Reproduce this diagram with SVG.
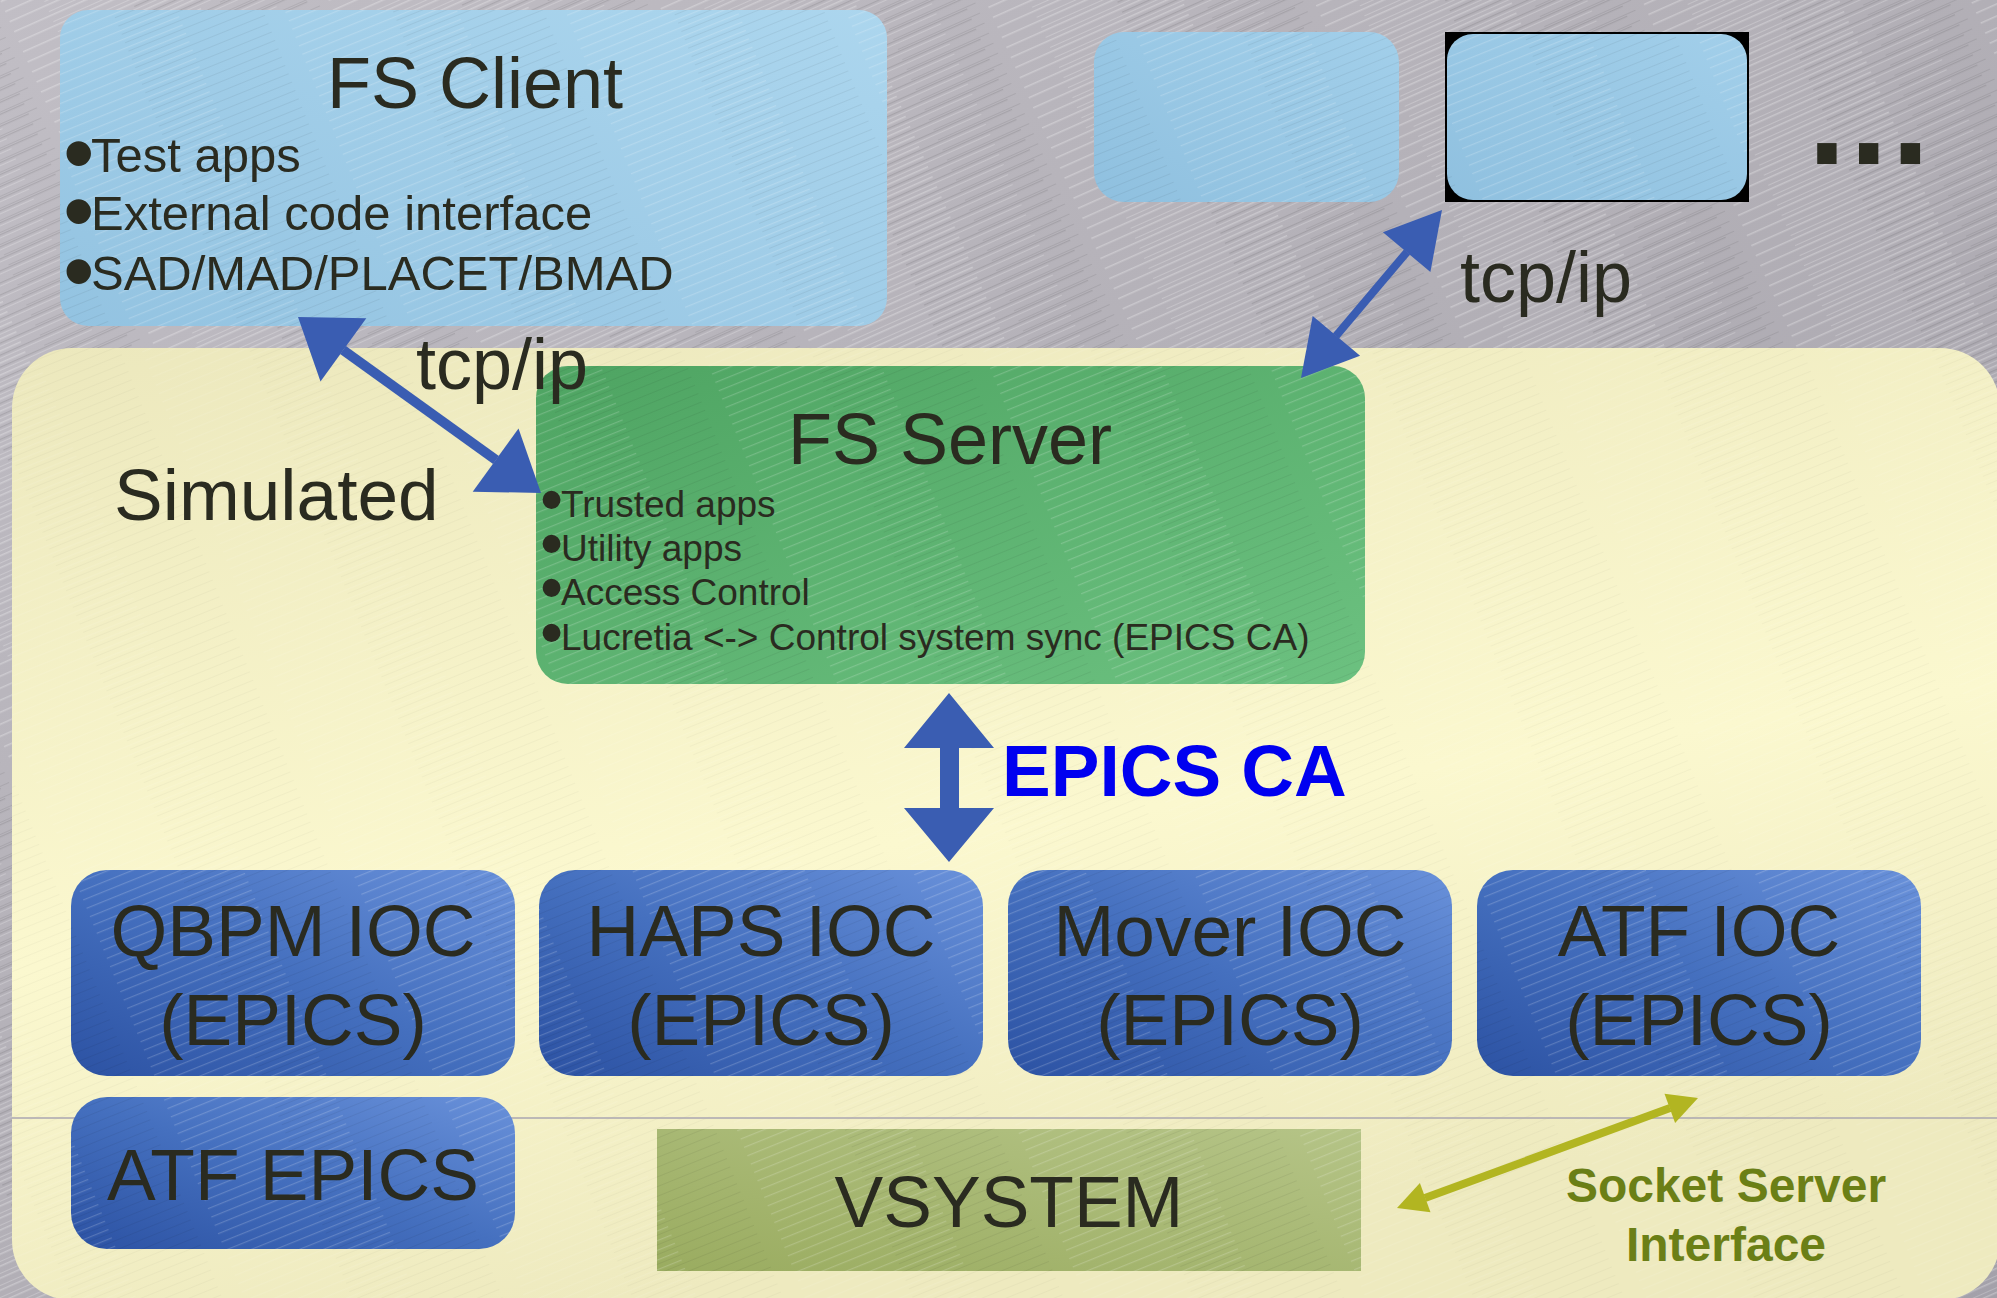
<svg xmlns="http://www.w3.org/2000/svg" width="1997" height="1298" viewBox="0 0 1997 1298">
<defs>
  <linearGradient id="gBg" x1="0" y1="0" x2="1" y2="1">
    <stop offset="0" stop-color="#c1bec5"/>
    <stop offset="0.5" stop-color="#b2afb6"/>
    <stop offset="1" stop-color="#a4a1aa"/>
  </linearGradient>
  <linearGradient id="gYel" x1="0" y1="0" x2="0.3" y2="1">
    <stop offset="0" stop-color="#ece8bd"/>
    <stop offset="0.6" stop-color="#fbf8cf"/>
    <stop offset="1" stop-color="#eeeabf"/>
  </linearGradient>
  <linearGradient id="gClient" x1="0" y1="1" x2="1" y2="0">
    <stop offset="0" stop-color="#93c3e1"/>
    <stop offset="1" stop-color="#acd6ee"/>
  </linearGradient>
  <linearGradient id="gSmall" x1="0" y1="1" x2="1" y2="0">
    <stop offset="0" stop-color="#8fc0df"/>
    <stop offset="1" stop-color="#a2cfea"/>
  </linearGradient>
  <linearGradient id="gServer" x1="0" y1="0" x2="1" y2="1">
    <stop offset="0" stop-color="#4ea462"/>
    <stop offset="1" stop-color="#6cc180"/>
  </linearGradient>
  <linearGradient id="gIoc" x1="0" y1="1" x2="1" y2="0">
    <stop offset="0" stop-color="#2c52a3"/>
    <stop offset="0.5" stop-color="#4570bf"/>
    <stop offset="1" stop-color="#6991da"/>
  </linearGradient>
  <linearGradient id="gVsys" x1="0" y1="1" x2="1" y2="0">
    <stop offset="0" stop-color="#9aac60"/>
    <stop offset="1" stop-color="#b5c487"/>
  </linearGradient>
  <pattern id="brush" width="300" height="11" patternUnits="userSpaceOnUse" patternTransform="rotate(-24)">
    <rect x="0" y="1" width="180" height="1.5" fill="#ffffff" opacity="0.28"/>
    <rect x="120" y="5" width="160" height="1.2" fill="#000000" opacity="0.10"/>
    <rect x="40" y="8" width="210" height="1" fill="#ffffff" opacity="0.22"/>
    <rect x="200" y="3" width="90" height="1" fill="#000000" opacity="0.08"/>
  </pattern>
  <pattern id="brushSoft" width="260" height="9" patternUnits="userSpaceOnUse" patternTransform="rotate(-22)">
    <rect x="0" y="1" width="160" height="1.2" fill="#ffffff" opacity="0.18"/>
    <rect x="100" y="5" width="140" height="1" fill="#000000" opacity="0.06"/>
  </pattern>
</defs>
<style>
  .txt { font-family: "Liberation Sans", Arial, sans-serif; fill: #2a2b20; }
  .title { font-size: 72px; }
  .b49 { font-size: 49px; }
  .b37 { font-size: 37px; }
  .bulA { font-size: 90px; }
  .bulB { font-size: 66px; }
  .ioc { font-size: 73px; text-anchor: middle; }
  .mid { text-anchor: middle; }
  .tex { fill: url(#brushSoft); }
  .blue { fill: #3a5db2; }
  .bline { stroke: #3a5db2; fill: none; }
  .olive { fill: #b2b521; }
  .oline { stroke: #b2b521; fill: none; }
</style>

<!-- background -->
<rect x="0" y="0" width="1997" height="1298" fill="url(#gBg)"/>
<rect x="0" y="0" width="1997" height="1298" fill="url(#brush)"/>

<!-- simulated region -->
<g id="simulated">
  <rect x="12" y="348" width="1988" height="952" rx="60" fill="url(#gYel)"/>
  <rect x="12" y="348" width="1988" height="952" rx="60" fill="url(#brushSoft)" opacity="0.5"/>
  <line x1="12" y1="1118" x2="1997" y2="1118" stroke="#aaa6b0" stroke-width="1.6"/>
  <text class="txt" x="114" y="520" font-size="73">Simulated</text>
</g>

<!-- FS Client -->
<g id="fs-client">
  <rect x="60" y="10" width="827" height="316" rx="28" fill="url(#gClient)"/>
  <rect x="60" y="10" width="827" height="316" rx="28" class="tex"/>
  <text class="txt title mid" x="475" y="108">FS Client</text>
  <text class="txt b49"><tspan class="bulA" x="63" y="184">•</tspan><tspan x="91" y="172">Test apps</tspan></text>
  <text class="txt b49"><tspan class="bulA" x="63" y="242">•</tspan><tspan x="91" y="230">External code interface</tspan></text>
  <text class="txt b49"><tspan class="bulA" x="63" y="302">•</tspan><tspan x="91" y="290">SAD/MAD/PLACET/BMAD</tspan></text>
</g>

<!-- other clients -->
<g id="client-2">
  <rect x="1094" y="32" width="305" height="170" rx="30" fill="url(#gSmall)"/>
  <rect x="1094" y="32" width="305" height="170" rx="30" class="tex"/>
</g>
<g id="client-3">
  <rect x="1445" y="32" width="304" height="170" fill="#000000"/>
  <rect x="1447" y="34" width="300" height="166" rx="26" fill="url(#gSmall)"/>
  <rect x="1447" y="34" width="300" height="166" rx="26" class="tex"/>
</g>
<g id="more">
  <text x="1806" y="164" font-family="'DejaVu Sans', sans-serif" font-weight="bold" font-size="110" fill="#2a2b20">...</text>
</g>

<!-- FS Server -->
<g id="fs-server">
  <rect x="536" y="366" width="829" height="318" rx="32" fill="url(#gServer)"/>
  <rect x="536" y="366" width="829" height="318" rx="32" class="tex"/>
  <text class="txt title mid" x="950" y="464">FS Server</text>
  <text class="txt b37"><tspan class="bulB" x="540" y="522">•</tspan><tspan x="561" y="517">Trusted apps</tspan></text>
  <text class="txt b37"><tspan class="bulB" x="540" y="566">•</tspan><tspan x="561" y="561">Utility apps</tspan></text>
  <text class="txt b37"><tspan class="bulB" x="540" y="610">•</tspan><tspan x="561" y="605">Access Control</tspan></text>
  <text class="txt b37"><tspan class="bulB" x="540" y="655">•</tspan><tspan x="561" y="650">Lucretia &lt;-&gt; Control system sync (EPICS CA)</tspan></text>
</g>

<!-- IOCs -->
<g id="qbpm-ioc">
  <rect x="71" y="870" width="444" height="206" rx="36" fill="url(#gIoc)"/>
  <rect x="71" y="870" width="444" height="206" rx="36" class="tex"/>
  <text class="txt ioc" x="293" y="956">QBPM IOC</text>
  <text class="txt ioc" x="293" y="1045">(EPICS)</text>
</g>
<g id="haps-ioc">
  <rect x="539" y="870" width="444" height="206" rx="36" fill="url(#gIoc)"/>
  <rect x="539" y="870" width="444" height="206" rx="36" class="tex"/>
  <text class="txt ioc" x="761" y="956">HAPS IOC</text>
  <text class="txt ioc" x="761" y="1045">(EPICS)</text>
</g>
<g id="mover-ioc">
  <rect x="1008" y="870" width="444" height="206" rx="36" fill="url(#gIoc)"/>
  <rect x="1008" y="870" width="444" height="206" rx="36" class="tex"/>
  <text class="txt ioc" x="1230" y="956">Mover IOC</text>
  <text class="txt ioc" x="1230" y="1045">(EPICS)</text>
</g>
<g id="atf-ioc">
  <rect x="1477" y="870" width="444" height="206" rx="36" fill="url(#gIoc)"/>
  <rect x="1477" y="870" width="444" height="206" rx="36" class="tex"/>
  <text class="txt ioc" x="1699" y="956">ATF IOC</text>
  <text class="txt ioc" x="1699" y="1045">(EPICS)</text>
</g>
<g id="atf-epics">
  <rect x="71" y="1097" width="444" height="152" rx="36" fill="url(#gIoc)"/>
  <rect x="71" y="1097" width="444" height="152" rx="36" class="tex"/>
  <text class="txt ioc" x="293" y="1200">ATF EPICS</text>
</g>
<g id="vsystem">
  <rect x="657" y="1129" width="704" height="142" fill="url(#gVsys)"/>
  <rect x="657" y="1129" width="704" height="142" class="tex"/>
  <text class="txt ioc" x="1009" y="1227" font-size="72">VSYSTEM</text>
</g>

<!-- connectors -->
<g id="connectors">
  <g id="tcp-left">
    <line class="bline" x1="343" y1="350" x2="496" y2="460" stroke-width="10"/>
    <polygon class="blue" points="298,317 366.3,318.3 320.5,381.5"/>
    <polygon class="blue" points="541,493 472.7,491.7 518.5,428.5"/>
    <text class="txt" x="416" y="389" font-size="72">tcp/ip</text>
  </g>
  <g id="tcp-right">
    <line class="bline" x1="1407" y1="252" x2="1336" y2="336" stroke-width="8"/>
    <polygon class="blue" points="1442,210 1430.4,272 1382.9,232.2"/>
    <polygon class="blue" points="1301,378 1360.1,355.8 1312.7,316"/>
    <text class="txt" x="1460" y="302" font-size="72">tcp/ip</text>
  </g>
  <g id="epics-ca">
    <polygon class="blue" points="949,693 994,748 959,748 959,808 994,808 949,862 904,808 940,808 940,748 904,748"/>
    <text x="1002" y="796" font-family="'Liberation Sans', Arial, sans-serif" font-weight="bold" font-size="73" fill="#0000f0">EPICS CA</text>
  </g>
  <g id="socket">
    <line class="oline" x1="1670" y1="1108" x2="1425" y2="1198" stroke-width="8"/>
    <polygon class="olive" points="1698,1098 1675.1,1122.9 1664.5,1093.8"/>
    <polygon class="olive" points="1397,1208 1430.5,1212.3 1419.9,1183.1"/>
    <text x="1726" y="1202" text-anchor="middle" font-family="'Liberation Sans', Arial, sans-serif" font-weight="bold" font-size="48" fill="#6b7f16">Socket Server</text>
    <text x="1726" y="1261" text-anchor="middle" font-family="'Liberation Sans', Arial, sans-serif" font-weight="bold" font-size="48" fill="#6b7f16">Interface</text>
  </g>
</g>
</svg>
